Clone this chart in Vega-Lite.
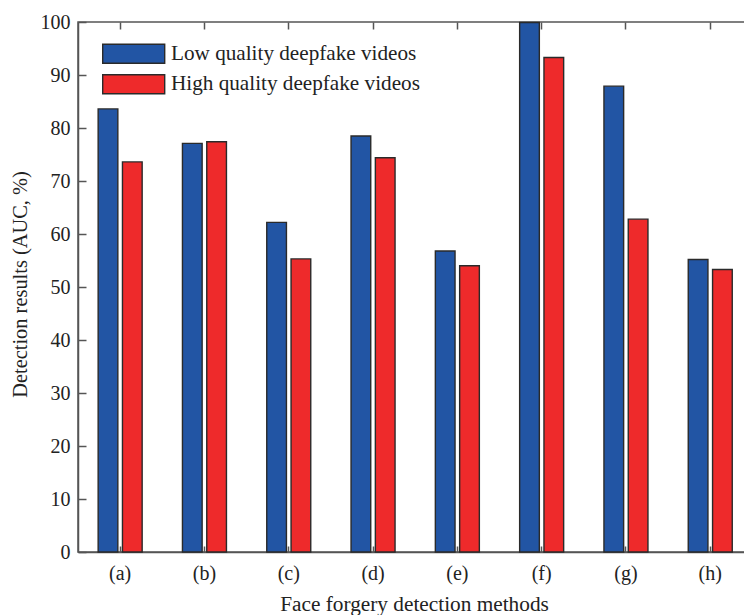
{
  "$schema": "https://vega.github.io/schema/vega-lite/v6.json",
  "autosize": "none",
  "width": 667,
  "height": 530,
  "padding": {"left": 78, "top": 22, "right": 0, "bottom": 63},
  "config": {
    "font": "Liberation Serif",
    "view": {"stroke": "#555", "strokeWidth": 1.5},
    "axis": {
      "labelFont": "Liberation Serif",
      "titleFont": "Liberation Serif",
      "labelFontSize": 20,
      "titleFontSize": 20,
      "labelColor": "#222",
      "titleColor": "#222",
      "titleFontWeight": "normal",
      "domainColor": "#555",
      "domainWidth": 1.5,
      "tickColor": "#555",
      "tickWidth": 1.5,
      "grid": false
    },
    "legend": {"labelFont": "Liberation Serif"}
  },
  "data": {
    "values": [
      {"method": "(a)", "series": "Low quality deepfake videos", "value": 83.6},
      {"method": "(a)", "series": "High quality deepfake videos", "value": 73.6},
      {"method": "(b)", "series": "Low quality deepfake videos", "value": 77.1},
      {"method": "(b)", "series": "High quality deepfake videos", "value": 77.4},
      {"method": "(c)", "series": "Low quality deepfake videos", "value": 62.2},
      {"method": "(c)", "series": "High quality deepfake videos", "value": 55.3},
      {"method": "(d)", "series": "Low quality deepfake videos", "value": 78.5},
      {"method": "(d)", "series": "High quality deepfake videos", "value": 74.4},
      {"method": "(e)", "series": "Low quality deepfake videos", "value": 56.8},
      {"method": "(e)", "series": "High quality deepfake videos", "value": 54.0},
      {"method": "(f)", "series": "Low quality deepfake videos", "value": 99.9},
      {"method": "(f)", "series": "High quality deepfake videos", "value": 93.3},
      {"method": "(g)", "series": "Low quality deepfake videos", "value": 87.9},
      {"method": "(g)", "series": "High quality deepfake videos", "value": 62.8},
      {"method": "(h)", "series": "Low quality deepfake videos", "value": 55.2},
      {"method": "(h)", "series": "High quality deepfake videos", "value": 53.3}
    ]
  },
  "encoding": {
    "y": {
      "field": "value",
      "type": "quantitative",
      "scale": {"domain": [0, 100], "nice": false},
      "axis": {
        "values": [0, 10, 20, 30, 40, 50, 60, 70, 80, 90, 100],
        "tickSize": -8,
        "labelPadding": 16,
        "title": "Detection results (AUC, %)",
        "titleFontSize": 20.4,
        "titleAngle": -90,
        "titleX": -58,
        "titleY": 262,
        "titleBaseline": "middle",
        "titleAlign": "center"
      }
    }
  },
  "layer": [
    {
      "mark": {"type": "bar", "stroke": "#2a2a2a", "strokeWidth": 1.4},
      "encoding": {
        "x": {
          "field": "method",
          "type": "nominal",
          "scale": {"range": [0, 674.4], "paddingInner": 0.478, "paddingOuter": 0.239},
          "axis": {
            "orient": "bottom",
            "labelAngle": 0,
            "tickSize": -6,
            "labelPadding": 17,
            "title": "Face forgery detection methods",
            "titleFontSize": 21.3,
            "titleX": 336,
            "titleY": 52,
            "titleBaseline": "middle",
            "titleAlign": "center"
          }
        },
        "xOffset": {
          "field": "series",
          "type": "nominal",
          "sort": ["Low quality deepfake videos", "High quality deepfake videos"],
          "scale": {"paddingInner": 0.19}
        },
        "color": {
          "field": "series",
          "type": "nominal",
          "scale": {
            "domain": ["Low quality deepfake videos", "High quality deepfake videos"],
            "range": ["#2255A4", "#EE2A2B"]
          },
          "legend": {
            "orient": "none",
            "legendX": 44.7,
            "legendY": 20.8,
            "title": null,
            "padding": 0,
            "symbolType": "M-3.1,-0.95H3.1V0.95H-3.1Z",
            "symbolSize": 400,
            "symbolStrokeColor": "#2a2a2a",
            "symbolStrokeWidth": 1.4,
            "symbolOpacity": 1,
            "labelFontSize": 21.2,
            "labelColor": "#222",
            "labelOffset": 26.3,
            "rowPadding": 4.4,
            "labelLimit": 400
          }
        }
      }
    },
    {
      "mark": {"type": "bar", "opacity": 0},
      "encoding": {
        "x": {
          "field": "method",
          "type": "nominal",
          "scale": {"range": [0, 674.4], "paddingInner": 0.478, "paddingOuter": 0.239},
          "axis": {
            "orient": "top",
            "labels": false,
            "title": null,
            "tickSize": -7,
            "domain": false
          }
        }
      }
    }
  ],
  "resolve": {"axis": {"x": "independent"}}
}
